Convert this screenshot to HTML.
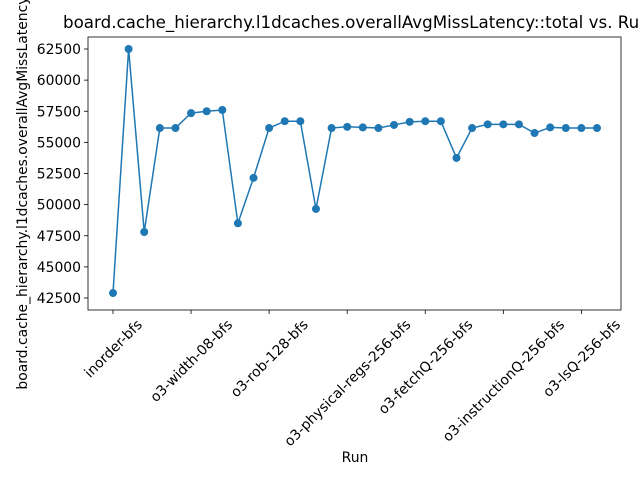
<!DOCTYPE html>
<html><head><meta charset="utf-8"><style>body{margin:0;background:#fff}svg{display:block;font-family:"DejaVu Sans","Liberation Sans",sans-serif}</style></head>
<body>
<svg id="c" width="640" height="480" viewBox="0 0 640 480">
<rect width="640" height="480" fill="#fff"/>
<text x="63" y="28" font-size="16.7">board.cache_hierarchy.l1dcaches.overallAvgMissLatency::total vs. Run</text>
<text transform="translate(27,173) rotate(-90)" font-size="13.9" text-anchor="middle">board.cache_hierarchy.l1dcaches.overallAvgMissLatency::total</text>
<text x="355" y="462" font-size="13.9" text-anchor="middle">Run</text>
<g id="plot"></g>
</svg>
<script>
const values=[42900,62500,47800,56150,56150,57350,57500,57600,48500,52150,56150,56700,56700,49650,56150,56250,56200,56150,56400,56650,56700,56700,53750,56150,56450,56450,56450,55750,56200,56150,56150,56150];
const yTicks=[42500,45000,47500,50000,52500,55000,57500,60000,62500];
const xTickIdx=[0,5,10,15,20,25,30];
const xTickLabels=["inorder-bfs","o3-width-08-bfs","o3-rob-128-bfs","o3-physical-regs-256-bfs","o3-fetchQ-256-bfs","o3-instructionQ-256-bfs","o3-lsQ-256-bfs"];
const L=88,R=621,T=37,B=310;
const X0=113,X1=597;
const x=i=>X0+(X1-X0)*i/(values.length-1);
const y=v=>49+(62500-v)*(298-49)/20000;
const NS="http://www.w3.org/2000/svg";
const g=document.getElementById('plot');
function mk(t,a){const e=document.createElementNS(NS,t);for(const k in a)e.setAttribute(k,a[k]);g.appendChild(e);return e;}
yTicks.forEach(v=>{
  const t=mk('line',{x1:L-4,x2:L,y1:y(v),y2:y(v),stroke:'#000','stroke-width':0.8});
  
  
  const tx=mk('text',{x:L-7,y:y(v)+5,'font-size':13.9,'text-anchor':'end'});
  tx.textContent=v;
  
  
});
xTickIdx.forEach((i,k)=>{
  const t=mk('line',{x1:x(i),x2:x(i),y1:B,y2:B+4,stroke:'#000','stroke-width':0.8});
  
  
  const tx=mk('text',{'font-size':13.9,'text-anchor':'middle'});
  tx.textContent=xTickLabels[k];
  
  
  const w=tx.getComputedTextLength();
  const h=(w+14)*0.7071;
  const cy=B+7+h/2;
  tx.setAttribute('transform',`translate(${x(i)},${cy}) rotate(-45)`);
  tx.setAttribute('y',5);
});
const line=mk('polyline',{points:values.map((v,i)=>x(i)+','+y(v)).join(' '),fill:'none',stroke:'#1f77b4','stroke-width':1.5});


values.forEach((v,i)=>{
  const c=mk('circle',{cx:x(i),cy:y(v),r:4,fill:'#1f77b4'});
  
  
});
const fr=mk('rect',{x:L,y:T,width:R-L,height:B-T,fill:'none',stroke:'#000','stroke-width':0.8});


</script>
</body></html>
